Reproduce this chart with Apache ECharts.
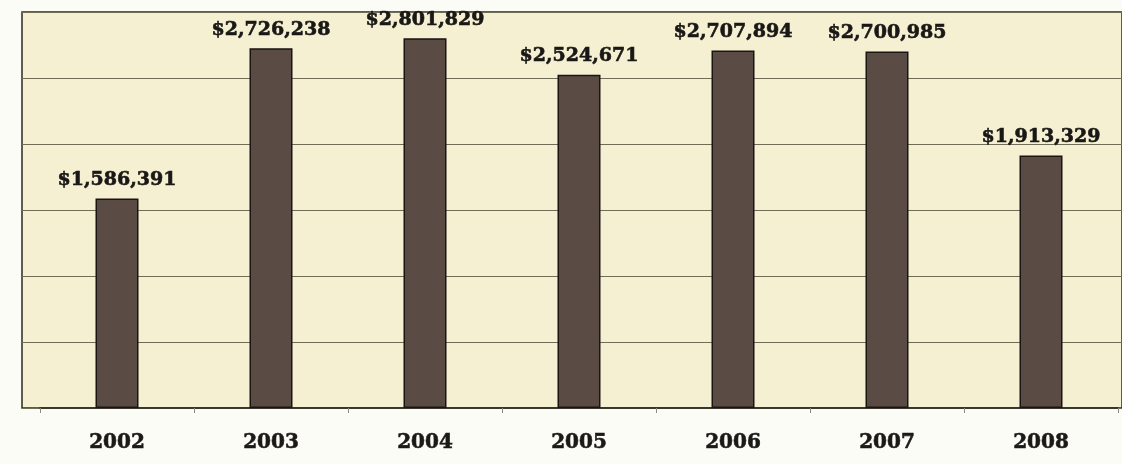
<!DOCTYPE html>
<html>
<head>
<meta charset="utf-8">
<script src="https://cdn.jsdelivr.net/npm/echarts@6/dist/echarts.min.js"></script>
<style>
html,body{margin:0;padding:0;background:#fcfcf6;}
#chart{width:1122px;height:464px;}
</style>
</head>
<body>
<div id="chart"></div>
<script>
const years = ['2002','2003','2004','2005','2006','2007','2008'];
const amounts = [1586391, 2726238, 2801829, 2524671, 2707894, 2700985, 1913329];
const yMax = 3000000;
const yStep = 500000;

const chart = echarts.init(document.getElementById('chart'));
const serif = '"DejaVu Serif", "Liberation Serif", serif';
chart.setOption({
  backgroundColor: '#fcfcf6',
  animation: false,
  grid: [
    {left: 22, top: 12, right: -20, bottom: 56, show: true,
     backgroundColor: '#f4f0d1', borderColor: '#2b2a22', borderWidth: 1.5},
    {left: 40, top: 12, width: 1078, bottom: 56}
  ],
  xAxis: [
    {gridIndex: 0, type: 'value', show: false, min: 0, max: 1},
    {gridIndex: 1, type: 'category', data: years,
     axisLine: {show: true, lineStyle: {color: '#2b2a22', width: 1.5}},
     axisTick: {show: true, inside: false, length: 5, lineStyle: {color: '#8a8a80'}},
     axisLabel: {margin: 25, fontFamily: serif, fontWeight: 'bold', fontSize: 20, color: '#1c1a18',
                 textBorderColor: '#1c1a18', textBorderWidth: 0.6}}
  ],
  yAxis: [
    {gridIndex: 0, type: 'value', min: 0, max: yMax, interval: yStep,
     axisLine: {show: false}, axisTick: {show: false}, axisLabel: {show: false},
     splitLine: {show: true, lineStyle: {color: '#6f6d55', width: 1.2}}},
    {gridIndex: 1, type: 'value', min: 0, max: yMax, interval: yStep, show: false,
     splitLine: {show: false}}
  ],
  series: [{
    type: 'bar',
    xAxisIndex: 1, yAxisIndex: 1,
    data: amounts,
    barWidth: 43,
    itemStyle: {color: '#5a4b45', borderColor: '#1a1512', borderWidth: 1.5},
    label: {
      show: true, position: 'top', distance: 9,
      fontFamily: serif, fontWeight: 'bold', fontSize: 19, color: '#1a1816',
      textBorderColor: '#1a1816', textBorderWidth: 0.6,
      formatter: p => '$' + p.value.toLocaleString('en-US')
    }
  }]
});
</script>
</body>
</html>
